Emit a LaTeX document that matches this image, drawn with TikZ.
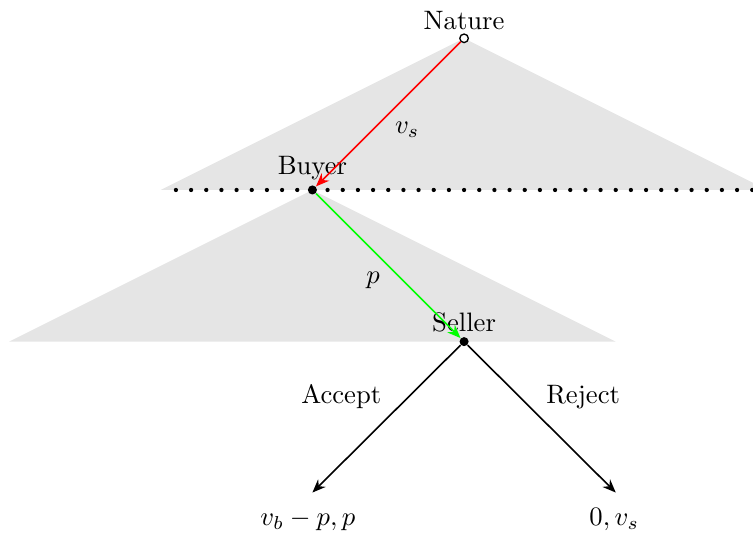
\documentclass[tikz,border=0pt]{standalone}
\usetikzlibrary{arrows.meta}
\begin{document}
\begin{tikzpicture}[
  dec/.style={circle,fill=black,inner sep=0pt,minimum size=3.4pt},
  chance/.style={circle,draw=black,fill=white,inner sep=0pt,minimum size=3.2pt,line width=0.5pt},
  move/.style={-{Stealth[length=5pt,width=4pt]},semithick},
  lbl/.style={inner sep=1pt}
]
\useasboundingbox (-6.12,0.505) rectangle (3.81,-6.53);
\fill[gray!20] (0,0) -- (-4,-2) -- (4,-2) -- cycle;
\fill[gray!20] (-2,-2) -- (-6,-4) -- (2,-4) -- cycle;
\draw[line width=1.6pt,line cap=round,dash pattern=on 0pt off 0.2cm] (-3.8,-2) -- (3.85,-2);
\node[chance] (n) at (0,0) {};
\node[dec] (b) at (-2,-2) {};
\node[dec] (s) at (0,-4) {};
\node[lbl] (nl) at (0,0.24) {Nature};
\node[lbl] (bl) at (-2,-1.71) {Buyer};
\node[lbl] (sl) at (0,-3.75) {Seller};
\coordinate (l1) at (-2,-5.99);
\coordinate (l2) at (2,-5.99);
\node (o1) at (-2.06,-6.35) {$v_b-p,p$};
\node (o2) at (1.98,-6.35) {$0,v_s$};
\draw[move,red] (n) -- (b);
\draw[move,green] (b) -- (s);
\draw[move] (s) -- (l1);
\draw[move] (s) -- (l2);
\node (vs) at (-0.75,-1.21) {$v_s$};
\node (p) at (-1.2,-3.19) {$p$};
\node (acc) at (-1.62,-4.73) {Accept};
\node (rej) at (1.57,-4.73) {Reject};
\end{tikzpicture}
\end{document}
